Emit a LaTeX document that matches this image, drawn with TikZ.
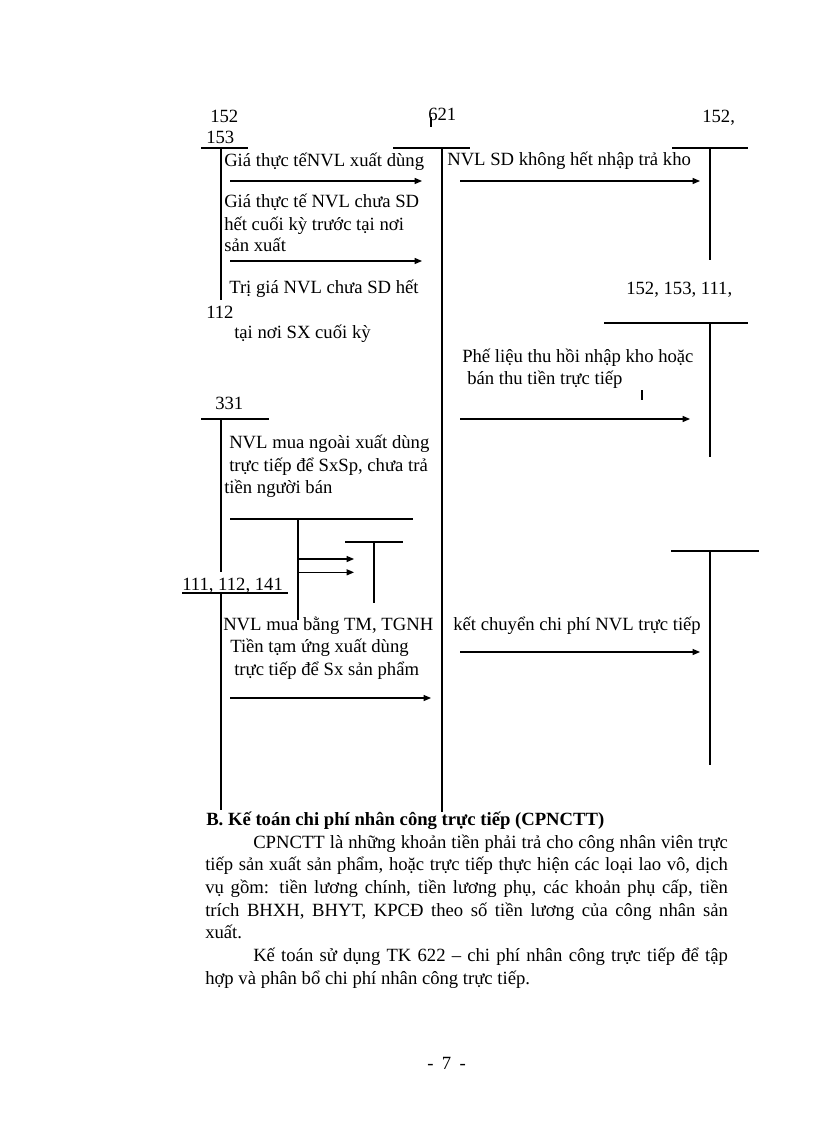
\documentclass[tikz,border=0pt]{standalone}
\usepackage{fontspec}
\setmainfont{Liberation Serif}
\usetikzlibrary{positioning, arrows.meta}

\begin{document}
\begin{tikzpicture}[x=0.75pt, y=-0.75pt,
				LabelText/.style={anchor=base west, inner sep=0pt, font=\fontsize{14}{16}\selectfont},
				AccLine/.style={line width=0.8pt},
				FlowArrow/.style={line width=0.8pt, -{Triangle[length=5.5pt, width=4.5pt]}}]

			\useasboundingbox[fill=white] (0,0) rectangle (816,1123);

			% Account labels
			\node[LabelText] (Acc152a) at (210,123) {152};
			\node[LabelText] (Acc153a) at (206,144) {153};
			\node[LabelText] (Acc621) at (428,121) {621};
			\node[LabelText] (Acc152b) at (702,123) {152,};
			\node[LabelText] (Acc152c) at (626,294) {152, 153, 111,};
			\node[LabelText] (Acc112) at (206,318) {112};
			\node[LabelText] (Acc331) at (215,409) {331};
			\node[LabelText] (Acc111) at (182,590) {111, 112, 141};

			% Entry texts
			\node[LabelText] (XuatDung) at (224,167) {Giá thực tếNVL xuất dùng};
			\node[LabelText] (TraKho) at (447,166) {NVL SD không hết nhập trả kho};
			\node[LabelText] (ChuaSDa) at (224,208) {Giá thực tế NVL chưa SD};
			\node[LabelText] (ChuaSDb) at (224,230) {hết cuối kỳ trước tại nơi};
			\node[LabelText] (ChuaSDc) at (224,252) {sản xuất};
			\node[LabelText] (TriGiaa) at (229,293) {Trị giá NVL chưa SD hết};
			\node[LabelText] (TriGiab) at (234,338) {tại nơi SX cuối kỳ};
			\node[LabelText] (PheLieua) at (462,362) {Phế liệu thu hồi nhập kho hoặc};
			\node[LabelText] (PheLieub) at (467,384) {bán thu tiền trực tiếp};
			\node[LabelText] (MuaNgoaia) at (229,448) {NVL mua ngoài xuất dùng};
			\node[LabelText] (MuaNgoaib) at (229,471) {trực tiếp để SxSp, chưa trả};
			\node[LabelText] (MuaNgoaic) at (224,493) {tiền người bán};
			\node[LabelText] (MuaTMa) at (223,630) {NVL mua bằng TM, TGNH};
			\node[LabelText] (MuaTMb) at (230,652) {Tiền tạm ứng xuất dùng};
			\node[LabelText] (MuaTMc) at (234,675) {trực tiếp để Sx sản phẩm};
			\node[LabelText] (KetChuyen) at (453,630) {kết chuyển chi phí NVL trực tiếp};

			% T-accounts
			\draw[AccLine] (201,148) -- (248,148) (221,148) -- (221,300);
			\draw[AccLine] (393,148) -- (470,148) (442,148) -- (442,812);
			\draw[AccLine] (672,148) -- (748,148) (710,148) -- (710,260);
			\draw[AccLine] (604,323) -- (748,323) (710,323) -- (710,457);
			\draw[AccLine] (201,419) -- (269,419) (221,419) -- (221,572);
			\draw[AccLine] (182,593) -- (288,593) (221,593) -- (221,810);
			\draw[AccLine] (230,519) -- (413,519) (298,519) -- (298,620);
			\draw[AccLine] (345,542) -- (403,542) (374,542) -- (374,603);
			\draw[AccLine] (671,551) -- (759,551) (710,551) -- (710,765);
			\draw[AccLine] (431,117) -- (431,127);
			\draw[AccLine] (642,390) -- (642,400);

			% Arrows
			\coordinate (XuatDungS) at (230,181);
			\coordinate (XuatDungE) at (422,181);
			\coordinate (TraKhoS) at (460,181);
			\coordinate (TraKhoE) at (700,181);
			\coordinate (ChuaSDS) at (230,261);
			\coordinate (ChuaSDE) at (422,261);
			\coordinate (PheLieuS) at (460,419);
			\coordinate (PheLieuE) at (690,419);
			\coordinate (DoubleS) at (298,559);
			\coordinate (DoubleE) at (354,559);
			\coordinate (MuaTMS) at (230,698);
			\coordinate (MuaTME) at (431,698);
			\coordinate (KetChuyenS) at (460,652);
			\coordinate (KetChuyenE) at (700,652);

			\draw[FlowArrow] (XuatDungS) to (XuatDungE);
			\draw[FlowArrow] (TraKhoS) to (TraKhoE);
			\draw[FlowArrow] (ChuaSDS) to (ChuaSDE);
			\draw[FlowArrow] (PheLieuS) to (PheLieuE);
			\draw[FlowArrow] (DoubleS) to (DoubleE);
			\draw[FlowArrow] ([yshift=-10]DoubleS) to ([yshift=-10]DoubleE);
			\draw[FlowArrow] (MuaTMS) to (MuaTME);
			\draw[FlowArrow] (KetChuyenS) to (KetChuyenE);

			% Text below
			\node[LabelText, font=\fontsize{14}{16}\selectfont\bfseries] (Heading) at (206,825) {B. Kế toán chi phí nhân công trực tiếp (CPNCTT)};
			\node[LabelText] (Para1a) at (253,848) {\makebox[356pt][s]{CPNCTT là những khoản tiền phải trả cho công nhân viên trực}};
			\node[LabelText] (Para1b) at (205,870.5) {\makebox[392pt][s]{tiếp sản xuất sản phẩm, hoặc trực tiếp thực hiện các loại lao vô, dịch}};
			\node[LabelText] (Para1c) at (205,893) {\makebox[392pt][s]{vụ gồm: tiền lương chính, tiền lương phụ, các khoản phụ cấp, tiền}};
			\node[LabelText] (Para1d) at (205,916) {\makebox[392pt][s]{trích BHXH, BHYT, KPCĐ theo số tiền lương của công nhân sản}};
			\node[LabelText] (Para1e) at (205,938.5) {xuất.};
			\node[LabelText] (Para2a) at (253,961) {\makebox[356pt][s]{Kế toán sử dụng TK 622 – chi phí nhân công trực tiếp để tập}};
			\node[LabelText] (Para2b) at (205,984) {hợp và phân bổ chi phí nhân công trực tiếp.};

			\node[LabelText] (PageNo) at (427,1069) {-\hspace{0.45em}7\hspace{0.45em}-};
		\end{tikzpicture}
\end{document}
